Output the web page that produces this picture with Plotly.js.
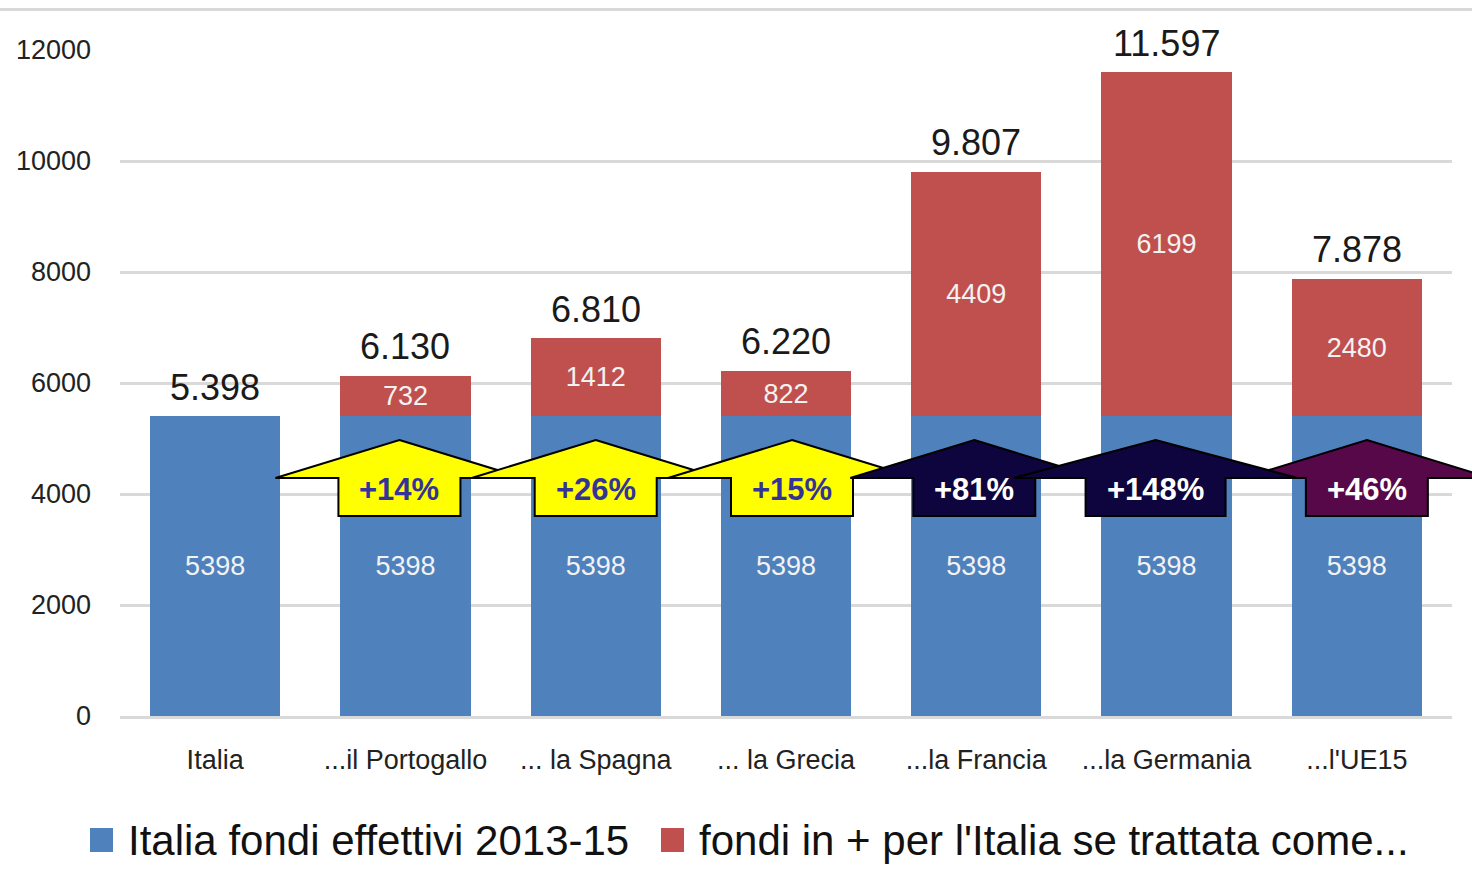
<!DOCTYPE html>
<html>
<head>
<meta charset="utf-8">
<script src="https://cdn.plot.ly/plotly-3.0.1.min.js"></script>
<style>
html,body{margin:0;padding:0;background:#fff;}
#chart{width:1472px;height:895px;}
</style>
</head>
<body>
<div id="chart"></div>
<script>
// ---- data ----
var categories = ["Italia", "...il Portogallo", "... la Spagna", "... la Grecia", "...la Francia", "...la Germania", "...l'UE15"];
var baseValues = [5398, 5398, 5398, 5398, 5398, 5398, 5398];
var extraValues = [0, 732, 1412, 822, 4409, 6199, 2480];
var totalValues = [5398, 6130, 6810, 6220, 9807, 11597, 7878];
var percentLabels = [null, 14, 26, 15, 81, 148, 46];
var seriesNames = ["Italia fondi effettivi 2013-15", "fondi in + per l'Italia se trattata come..."];
var yTicks = [0, 2000, 4000, 6000, 8000, 10000, 12000];

// ---- styles ----
var FONT = "Liberation Sans, Arial, sans-serif";
var BLUE = "#4F81BD", RED = "#C0504D";
var seriesColors = [BLUE, RED];
var arrowFill = [null, "#FFFF00", "#FFFF00", "#FFFF00", "#0E053F", "#0E053F", "#560848"];
var arrowText = [null, "#333399", "#333399", "#333399", "#FFFFFF", "#FFFFFF", "#FFFFFF"];
var arrowShiftPx = [0, -6, 0, 6, -2, -11, 10];
var arrowBoxHalf = [0, 61, 61, 61, 61, 70, 61];
var arrowWingHalf = [0, 124, 124, 124, 124, 142, 124];
var arrowOrder = [1, 2, 3, 4, 6, 5];
var legendLeftPx = [90, 661];

var L = 120, R = 20, T = 50, B = 179, W = 1472, H = 895;
var plotW = W - L - R, plotH = H - T - B;
var yMax = 12000;

function fmtIt(v) {
  return String(v).replace(/\B(?=(\d{3})+(?!\d))/g, ".");
}
function xPaperOfIndex(i, px) { return (i + 0.5) / categories.length + px / plotW; }
function xPaperOfPx(px) { return (px - L) / plotW; }
function yPaperOfPx(py) { return (H - B - py) / plotH; }

var traces = [
  {
    type: "bar", name: seriesNames[0], x: categories, y: baseValues,
    marker: {color: BLUE},
    text: baseValues.map(String), textposition: "inside", insidetextanchor: "middle",
    textfont: {family: FONT, size: 27, color: "#F2F2F2"},
    constraintext: "none", hoverinfo: "x+y+name"
  },
  {
    type: "bar", name: seriesNames[1], x: categories, y: extraValues,
    marker: {color: RED},
    text: extraValues.map(function (v) { return v > 0 ? String(v) : ""; }),
    textposition: "inside", insidetextanchor: "middle",
    textfont: {family: FONT, size: 27, color: "#F2F2F2"},
    constraintext: "none", hoverinfo: "x+y+name"
  }
];

var annotations = [];
var shapes = [];

// top border line of the chart area
shapes.push({type: "line", xref: "paper", yref: "paper",
  x0: xPaperOfPx(0), x1: xPaperOfPx(W), y0: yPaperOfPx(9.5), y1: yPaperOfPx(9.5),
  line: {color: "#D9D9D9", width: 3}, layer: "below"});

// totals above bars
categories.forEach(function (c, i) {
  annotations.push({x: c, y: totalValues[i], xref: "x", yref: "y", text: fmtIt(totalValues[i]),
    showarrow: false, yanchor: "middle", yshift: 29,
    font: {family: FONT, size: 36, color: "#1A1A1A"}});
});

// block arrows with percentages
var tipPx = 440, shoulderPx = 478, bottomPx = 516, textPx = 489;
arrowOrder.forEach(function (i) {
  var cx = xPaperOfIndex(i, arrowShiftPx[i]);
  var bh = arrowBoxHalf[i] / plotW, wh = arrowWingHalf[i] / plotW;
  var yt = yPaperOfPx(tipPx), ys = yPaperOfPx(shoulderPx), yb = yPaperOfPx(bottomPx);
  var path = "M" + cx + "," + yt +
    " L" + (cx + wh) + "," + ys +
    " L" + (cx + bh) + "," + ys +
    " L" + (cx + bh) + "," + yb +
    " L" + (cx - bh) + "," + yb +
    " L" + (cx - bh) + "," + ys +
    " L" + (cx - wh) + "," + ys + " Z";
  shapes.push({type: "path", xref: "paper", yref: "paper", path: path,
    fillcolor: arrowFill[i], line: {color: "#000000", width: 2}, layer: "above"});
});
categories.forEach(function (c, i) {
  if (percentLabels[i] === null) return;
  annotations.push({xref: "paper", yref: "paper", x: xPaperOfIndex(i, arrowShiftPx[i]), y: yPaperOfPx(textPx),
    text: "<b>+" + percentLabels[i] + "%</b>", showarrow: false, xanchor: "center", yanchor: "middle",
    font: {family: FONT, size: 31, color: arrowText[i]}});
});

// legend (drawn as swatches + labels)
seriesNames.forEach(function (name, k) {
  var x0 = legendLeftPx[k];
  shapes.push({type: "rect", xref: "paper", yref: "paper",
    x0: xPaperOfPx(x0), x1: xPaperOfPx(x0 + 23), y0: yPaperOfPx(852), y1: yPaperOfPx(828),
    fillcolor: seriesColors[k], line: {width: 0}});
  annotations.push({xref: "paper", yref: "paper", x: xPaperOfPx(x0 + 36), y: yPaperOfPx(840),
    xanchor: "left", yanchor: "middle", showarrow: false, text: name,
    font: {family: FONT, size: 42, color: "#111111"}});
});

var layout = {
  width: W, height: H,
  margin: {l: L, r: R, t: T, b: B, pad: 0},
  paper_bgcolor: "#FFFFFF", plot_bgcolor: "#FFFFFF",
  barmode: "stack", bargap: 0.316,
  font: {family: FONT, color: "#1A1A1A"},
  xaxis: {
    type: "category", range: [-0.5, 6.5], fixedrange: true,
    showgrid: false, zeroline: false, showline: true, linecolor: "#D9D9D9", linewidth: 3,
    ticks: "", ticklabelstandoff: 18,
    tickfont: {family: FONT, size: 27, color: "#222222"}
  },
  yaxis: {
    range: [0, yMax], tickvals: yTicks, ticktext: yTicks.map(String), fixedrange: true,
    showgrid: true, gridcolor: "#D9D9D9", gridwidth: 3, zeroline: false, showline: false,
    ticks: "", ticklabelstandoff: 28,
    tickfont: {family: FONT, size: 27, color: "#222222"}
  },
  showlegend: false,
  shapes: shapes,
  annotations: annotations
};

Plotly.newPlot("chart", traces, layout, {displayModeBar: false, staticPlot: true});
</script>
</body>
</html>
